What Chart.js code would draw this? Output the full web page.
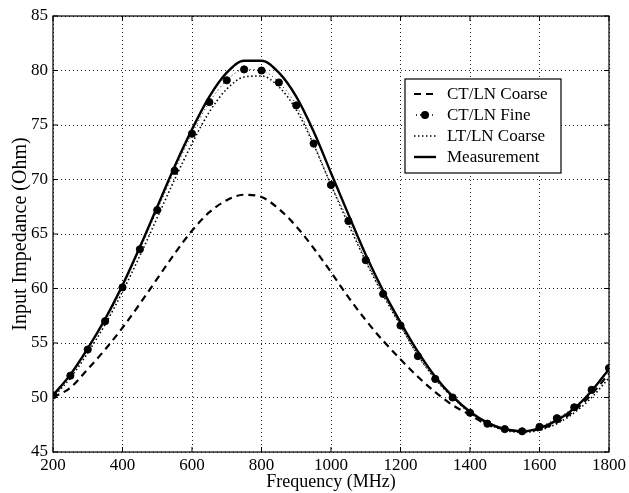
<!DOCTYPE html>
<html>
<head>
<meta charset="utf-8">
<script src="https://cdn.jsdelivr.net/npm/chart.js@4.4.1/dist/chart.umd.min.js"></script>
<style>
  html, body { margin: 0; padding: 0; background: #ffffff; }
  #wrap { width: 629px; height: 493px; position: relative; }
</style>
</head>
<body>
<div id="wrap"><canvas id="c" width="629" height="493"></canvas></div>
<script>
// ---- data ----
const frequencies = [200,250,300,350,400,450,500,550,600,650,700,750,800,850,900,950,1000,
  1050,1100,1150,1200,1250,1300,1350,1400,1450,1500,1550,1600,1650,1700,1750,1800];

const ctlnCoarse = [50.0,50.9,52.6,54.4,56.4,58.6,60.9,63.2,65.3,67.0,68.1,68.6,68.4,67.3,65.7,63.7,61.5,
  59.2,57.1,55.2,53.5,51.9,50.5,49.3,48.4,47.5,47.1,46.9,47.1,47.7,48.8,50.3,52.2];

const ctlnFine = [50.2,52.0,54.4,57.0,60.1,63.6,67.2,70.8,74.2,77.1,79.1,80.1,80.0,78.9,76.8,73.3,69.5,
  66.2,62.6,59.5,56.6,53.8,51.7,50.0,48.6,47.6,47.1,46.9,47.3,48.1,49.1,50.7,52.7];

const ltlnCoarse = [50.0,51.8,54.1,56.7,59.7,63.0,66.5,70.0,73.3,76.2,78.3,79.4,79.5,78.5,76.4,73.2,69.5,
  65.9,62.5,59.4,56.6,53.9,51.7,50.0,48.6,47.6,47.0,46.8,47.0,47.6,48.6,50.0,51.8];

const measurement = [50.2,52.1,54.5,57.2,60.3,63.8,67.5,71.2,74.6,77.6,79.8,80.9,80.9,79.8,77.6,74.4,70.6,
  66.8,63.1,59.8,56.9,54.2,51.9,50.1,48.7,47.7,47.1,46.9,47.2,47.9,49.0,50.6,52.6];

const seriesNames = ["CT/LN Coarse", "CT/LN Fine", "LT/LN Coarse", "Measurement"];
const xTicks = [200,400,600,800,1000,1200,1400,1600,1800];
const yTicks = [45,50,55,60,65,70,75,80,85];
const xTitle = "Frequency (MHz)";
const yTitle = "Input Impedance (Ohm)";

const pts = (ys) => frequencies.map((f, i) => ({x: f, y: ys[i]}));
const SERIF = "'Liberation Serif', 'DejaVu Serif', serif";

const boxPlugin = {
  id: 'boxAndLegend',
  afterDatasetsDraw(chart) {
    const ctx = chart.ctx;
    const ca = chart.chartArea;
    const xs = chart.scales.x, ys = chart.scales.y;
    ctx.save();
    // frame
    ctx.strokeStyle = '#000';
    ctx.lineWidth = 1.2;
    ctx.setLineDash([]);
    ctx.strokeRect(ca.left, ca.top, ca.right - ca.left, ca.bottom - ca.top);
    // inward ticks
    ctx.lineWidth = 1;
    const tl = 5;
    xTicks.forEach(v => {
      const px = xs.getPixelForValue(v);
      ctx.beginPath();
      ctx.moveTo(px, ca.bottom); ctx.lineTo(px, ca.bottom - tl);
      ctx.moveTo(px, ca.top); ctx.lineTo(px, ca.top + tl);
      ctx.stroke();
    });
    yTicks.forEach(v => {
      const py = ys.getPixelForValue(v);
      ctx.beginPath();
      ctx.moveTo(ca.left, py); ctx.lineTo(ca.left + tl, py);
      ctx.moveTo(ca.right, py); ctx.lineTo(ca.right - tl, py);
      ctx.stroke();
    });
    // legend
    const bx = ca.right - 204, by = ca.top + 63, bw = 156, bh = 94;
    ctx.fillStyle = '#fff';
    ctx.fillRect(bx, by, bw, bh);
    ctx.strokeStyle = '#000';
    ctx.lineWidth = 1.2;
    ctx.strokeRect(bx, by, bw, bh);
    const rows = [by + 15, by + 36, by + 57, by + 78];
    const ds = chart.data.datasets;
    ctx.font = "17px " + SERIF;
    ctx.textBaseline = 'middle';
    ctx.textAlign = 'left';
    ds.forEach((d, i) => {
      const y = rows[i];
      const x0 = bx + 9, x1 = bx + 31;
      ctx.strokeStyle = '#000';
      ctx.fillStyle = '#000';
      if (i === 1) {
        ctx.setLineDash([1, 3]);
        ctx.lineWidth = 1.5;
        ctx.beginPath(); ctx.moveTo(x0 + 2, y); ctx.lineTo(x1 - 1, y); ctx.stroke();
        ctx.setLineDash([]);
        ctx.beginPath(); ctx.arc((x0 + x1) / 2, y, 4, 0, Math.PI * 2); ctx.fill();
      } else {
        ctx.setLineDash(d.borderDash || []);
        ctx.lineWidth = d.borderWidth;
        ctx.beginPath(); ctx.moveTo(x0, y); ctx.lineTo(x1, y); ctx.stroke();
      }
      ctx.setLineDash([]);
      ctx.fillStyle = '#000';
      ctx.fillText(d.label, bx + 42, y + 1);
    });
    ctx.restore();
  }
};

new Chart(document.getElementById('c'), {
  type: 'line',
  data: {
    datasets: [
      { label: seriesNames[0], data: pts(ctlnCoarse), borderColor: '#000', borderWidth: 2.2,
        borderDash: [7, 5], pointRadius: 0, cubicInterpolationMode: 'monotone', order: 4 },
      { label: seriesNames[1], data: pts(ctlnFine), borderColor: '#000', borderWidth: 1,
        borderDash: [1, 3], pointRadius: 3.6, pointBackgroundColor: '#000', pointBorderColor: '#000',
        pointBorderWidth: 1, cubicInterpolationMode: 'monotone', order: 1 },
      { label: seriesNames[2], data: pts(ltlnCoarse), borderColor: '#000', borderWidth: 1.6,
        borderDash: [1.5, 2.5], pointRadius: 0, cubicInterpolationMode: 'monotone', order: 3 },
      { label: seriesNames[3], data: pts(measurement), borderColor: '#000', borderWidth: 2.4,
        pointRadius: 0, cubicInterpolationMode: 'monotone', order: 2 }
    ]
  },
  options: {
    responsive: false,
    animation: false,
    events: [],
    layout: { padding: { top: 16, right: 19, left: 0, bottom: 0 } },
    plugins: { legend: { display: false }, tooltip: { enabled: false } },
    scales: {
      x: {
        type: 'linear', min: 200, max: 1800,
        afterBuildTicks: (s) => { s.ticks = xTicks.map(v => ({value: v})); },
        afterFit: (s) => { s.height = 41; },
        ticks: { color: '#000', font: { family: SERIF, size: 17 }, padding: 3, maxRotation: 0,
                 callback: (v) => String(v) },
        grid: { color: '#222', lineWidth: 1, drawTicks: false },
        border: { display: false, dash: [1, 3] },
        title: { display: true, text: xTitle, color: '#000', font: { family: SERIF, size: 18 },
                 padding: { top: 0, bottom: 0 } }
      },
      y: {
        type: 'linear', min: 45, max: 85,
        afterBuildTicks: (s) => { s.ticks = yTicks.map(v => ({value: v})); },
        afterFit: (s) => { s.width = 53; },
        ticks: { color: '#000', font: { family: SERIF, size: 17 }, padding: 5,
                 callback: (v) => String(v) },
        grid: { color: '#222', lineWidth: 1, drawTicks: false },
        border: { display: false, dash: [1, 3] },
        title: { display: true, text: yTitle, color: '#000', font: { family: SERIF, size: 20 },
                 padding: { top: 9, bottom: 0 } }
      }
    }
  },
  plugins: [boxPlugin]
});
</script>
</body>
</html>
